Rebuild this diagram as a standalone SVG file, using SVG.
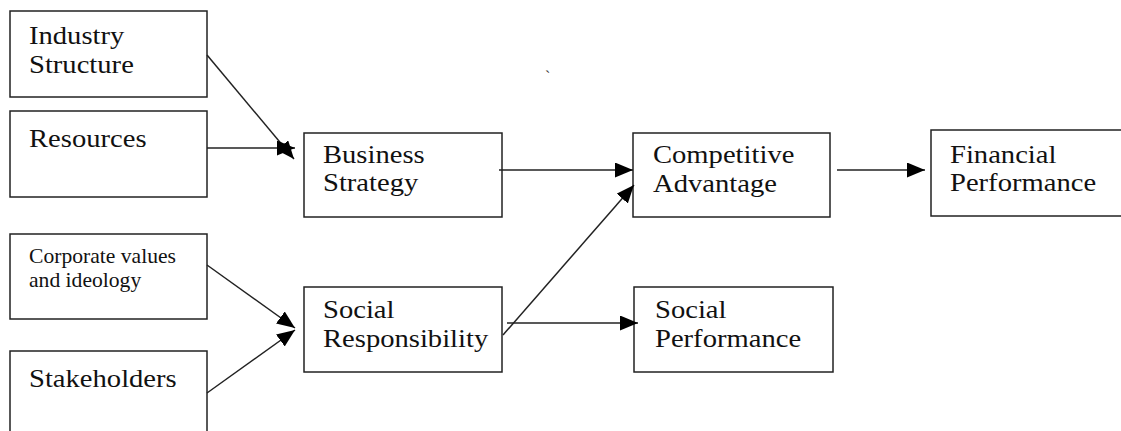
<svg xmlns="http://www.w3.org/2000/svg" width="1121" height="431" viewBox="0 0 1121 431">
<style>
.box{fill:#fff;stroke:#222;stroke-width:1.5}
.t{font-family:"Liberation Serif","Times New Roman",serif;font-size:26px;fill:#111}
.s{font-family:"Liberation Serif","Times New Roman",serif;font-size:21px;fill:#111}
.c{stroke:#222;stroke-width:1.5;fill:none}
</style>
<defs>
<marker id="ah" markerUnits="userSpaceOnUse" markerWidth="20" markerHeight="16" refX="18" refY="7.5" orient="auto">
<path d="M0,0 L18,7.5 L0,15 Z" fill="#000"/>
</marker>
</defs>
<rect width="1121" height="431" fill="#fff"/>
<g id="industry-structure">
<rect class="box" x="10" y="11" width="197" height="86"/>
<text class="t" transform="translate(29,44) scale(1.1,1)"><tspan x="0" y="0">Industry</tspan><tspan x="0" y="29">Structure</tspan></text>
</g>
<g id="resources">
<rect class="box" x="10" y="111" width="197" height="86"/>
<text class="t" transform="translate(29,147) scale(1.1,1)">Resources</text>
</g>
<g id="corporate-values">
<rect class="box" x="10" y="234" width="197" height="85"/>
<text class="s" transform="translate(29,263) scale(1.03,1)"><tspan x="0" y="0">Corporate values</tspan><tspan x="0" y="24">and ideology</tspan></text>
</g>
<g id="stakeholders">
<rect class="box" x="10" y="351" width="197" height="90"/>
<text class="t" transform="translate(29,387) scale(1.1,1)">Stakeholders</text>
</g>
<g id="business-strategy">
<rect class="box" x="304" y="133" width="198" height="84"/>
<text class="t" transform="translate(323,163) scale(1.1,1)"><tspan x="0" y="0">Business</tspan><tspan x="0" y="28">Strategy</tspan></text>
</g>
<g id="social-responsibility">
<rect class="box" x="304" y="287" width="198" height="85"/>
<text class="t" transform="translate(323,318) scale(1.1,1)"><tspan x="0" y="0">Social</tspan><tspan x="0" y="29">Responsibility</tspan></text>
</g>
<g id="competitive-advantage">
<rect class="box" x="633" y="133" width="197" height="84"/>
<text class="t" transform="translate(653,163) scale(1.1,1)"><tspan x="0" y="0">Competitive</tspan><tspan x="0" y="29">Advantage</tspan></text>
</g>
<g id="social-performance">
<rect class="box" x="634" y="287" width="199" height="85"/>
<text class="t" transform="translate(655,318) scale(1.1,1)"><tspan x="0" y="0">Social</tspan><tspan x="0" y="29">Performance</tspan></text>
</g>
<g id="financial-performance">
<rect class="box" x="931" y="130" width="200" height="86"/>
<text class="t" transform="translate(950,163) scale(1.1,1)"><tspan x="0" y="0">Financial</tspan><tspan x="0" y="28">Performance</tspan></text>
</g>
<text x="545" y="82" font-family="Liberation Serif, serif" font-size="16" fill="#333">`</text>
<g id="connectors">
<line class="c" x1="207" y1="55" x2="294" y2="159" marker-end="url(#ah)"/>
<line class="c" x1="207" y1="148" x2="295" y2="148" marker-end="url(#ah)"/>
<line class="c" x1="207" y1="265" x2="295" y2="328" marker-end="url(#ah)"/>
<line class="c" x1="207" y1="393" x2="295" y2="330" marker-end="url(#ah)"/>
<line class="c" x1="499" y1="170" x2="633" y2="170" marker-end="url(#ah)"/>
<line class="c" x1="503" y1="335" x2="634" y2="185" marker-end="url(#ah)"/>
<line class="c" x1="507" y1="323" x2="638" y2="323" marker-end="url(#ah)"/>
<line class="c" x1="837" y1="170" x2="925" y2="170" marker-end="url(#ah)"/>
</g>
</svg>
